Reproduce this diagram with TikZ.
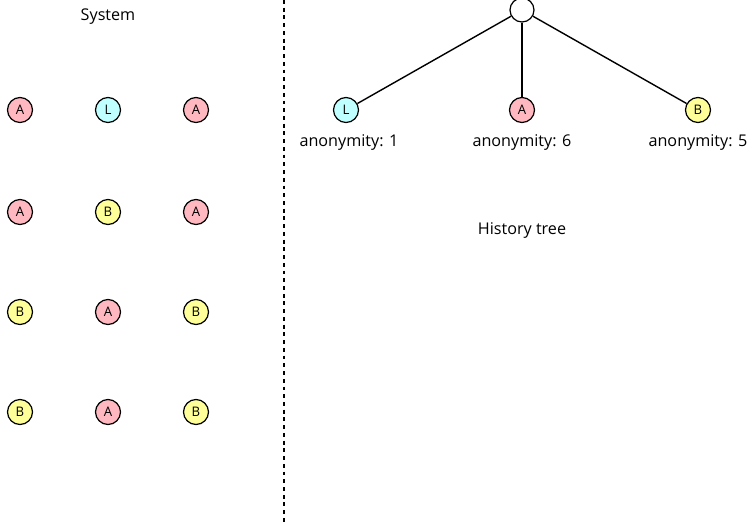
\documentclass[tikz,border=0pt]{standalone}
\usepackage{fontspec}
\setmainfont{Open Sans}
\usetikzlibrary{positioning}

\definecolor{pinkA}{HTML}{FFB7C0}
\definecolor{cyanL}{HTML}{BFFFFF}
\definecolor{yellowB}{HTML}{FFFF99}

\begin{document}
\begin{tikzpicture}
[
	x=0.02cm, y=-0.02cm,
	ag/.style={circle,draw,line width=0.7,minimum size=0.5cm,inner sep=0,font=\fontsize{7.5}{8}\selectfont},
	agA/.style={ag,fill=pinkA},
	agL/.style={ag,fill=cyanL},
	agB/.style={ag,fill=yellowB},
	lbl/.style={font=\fontsize{9.2}{11}\selectfont}
]
\useasboundingbox (0,0) rectangle (751,525);

% system side
\node[lbl] (sys) at (108,17) {System};

\node[agA] (s11) at (20,110) {A};
\node[agL] (s12) at (108,110) {L};
\node[agA] (s13) at (196,110) {A};

\node[agA] (s21) at (20,212) {A};
\node[agB] (s22) at (108,212) {B};
\node[agA] (s23) at (196,212) {A};

\node[agB] (s31) at (20,312) {B};
\node[agA] (s32) at (108,312) {A};
\node[agB] (s33) at (196,312) {B};

\node[agB] (s41) at (20,412) {B};
\node[agA] (s42) at (108,412) {A};
\node[agB] (s43) at (196,412) {B};

% separator
\coordinate (top) at (284,0);
\coordinate (bot) at (284,525);
\draw[line width=1.1,dash pattern=on 2.2pt off 2.2pt] (top) -- (bot);

% history tree
\node[ag,fill=white,minimum size=0.48cm] (root) at (522,10) {};

\node[agL] (hL) at (346,110) {L};
\node[agA] (hA) at (522,110) {A};
\node[agB] (hB) at (698,110) {B};

\node[lbl] (nL) at (349,143) {anonymity: 1};
\node[lbl] (nA) at (522,143) {anonymity: 6};
\node[lbl] (nB) at (698,143) {anonymity: 5};

\draw[line width=0.8] (root) -- (hL);
\draw[line width=0.8] (root) -- (hA);
\draw[line width=0.8] (root) -- (hB);

\node[lbl] (tree) at (522,231) {History tree};

\end{tikzpicture}
\end{document}
